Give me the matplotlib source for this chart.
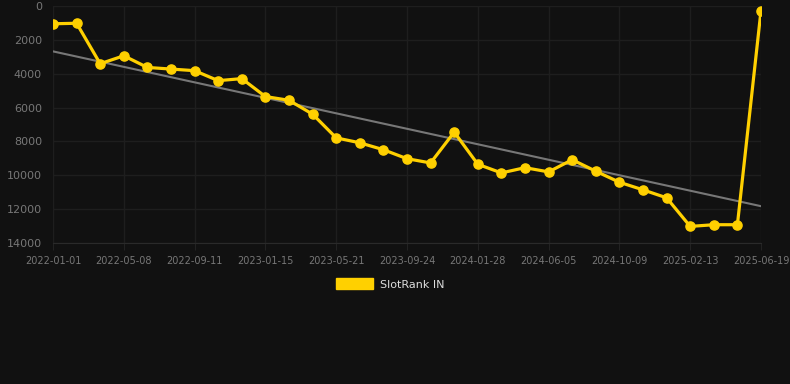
import numpy as np
import matplotlib
matplotlib.use("Agg")
import matplotlib.pyplot as plt

# rank per observation (31 evenly spaced points)
ranks = [1050, 1020, 3410, 2940, 3630, 3725, 3820, 4410, 4290, 5350,
         5570, 6390, 7790, 8080, 8490, 9020, 9270, 7450, 9350, 9860,
         9550, 9800, 9080, 9760, 10410, 10860, 11330, 13020, 12920, 12920,
         275]
tick_labels = ["2022-01-01", "2022-05-08", "2022-09-11", "2023-01-15",
               "2023-05-21", "2023-09-24", "2024-01-28", "2024-06-05",
               "2024-10-09", "2025-02-13", "2025-06-19"]
y_ticks = [0, 2000, 4000, 6000, 8000, 10000, 12000, 14000]

bg = "#111111"
fig = plt.figure(figsize=(7.9, 3.84), dpi=100, facecolor=bg)
ax = fig.add_axes([53 / 790, 1 - 243 / 384, (761 - 53) / 790, (243 - 6) / 384])
ax.set_facecolor(bg)

x = np.arange(len(ranks))

# linear trend
coef = np.polyfit(x, ranks, 1)
ax.plot(x, np.polyval(coef, x), color="#777777", lw=1.5, zorder=2)

ax.plot(x, ranks, color="#FFD000", lw=2.3, marker="o", markersize=6.6,
        zorder=3, label="SlotRank IN")

ax.set_xlim(0, len(ranks) - 1)
ax.set_ylim(14000, 0)
ax.set_xticks(x[::3])
ax.set_xticklabels(tick_labels)
ax.set_yticks(y_ticks)

ax.grid(True, color="#1e1e1e", lw=1)
ax.set_axisbelow(True)
for side in ["top", "right", "left"]:
    ax.spines[side].set_visible(False)
ax.spines["bottom"].set_color("#2a2a2a")
ax.tick_params(axis="x", colors="#777777", labelsize=7, length=5, color="#222222", pad=4)
ax.tick_params(axis="y", colors="#777777", labelsize=8, length=0, pad=8)

leg = fig.legend(handles=[plt.Rectangle((0, 0), 1, 1, color="#FFD000")],
                 labels=["SlotRank IN"], loc="center", bbox_to_anchor=(390 / 790, 1 - 284 / 384),
                 frameon=False, handlelength=3.4, handleheight=1.1, handletextpad=0.6,
                 fontsize=8)
for t in leg.get_texts():
    t.set_color("#dddddd")

fig.savefig("out.png", dpi=100, facecolor=bg)
